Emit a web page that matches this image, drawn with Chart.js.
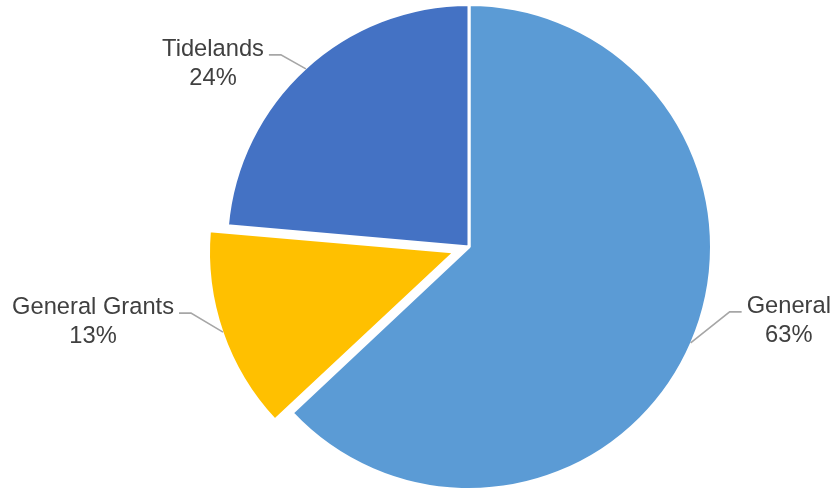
<!DOCTYPE html>
<html><head><meta charset="utf-8">
<script src="https://cdn.jsdelivr.net/npm/chart.js@4.4.1/dist/chart.umd.min.js"></script>
<style>html,body{margin:0;padding:0;background:#fff;}#wrap{width:834px;height:492px;}</style>
</head><body><div id="wrap"><canvas id="c" width="834" height="492"></canvas></div>
<script>
const categories = ['General', 'General Grants', 'Tidelands'];
const values = [63.0, 13.4, 23.6];
const colors = ['#5B9BD5', '#FFC000', '#4472C4'];
const explode = [0, 60, 0];

// label layout (styling only): elbow offset from the slice's edge point, and side
const labelLayout = [
  {dx: 39, dy: -31, side: 1},
  {dx: -32, dy: -19, side: -1},
  {dx: -25, dy: -14, side: -1}
];

const labelPlugin = {
  id: 'pieLabels',
  afterDatasetsDraw(chart) {
    const ctx = chart.ctx;
    const meta = chart.getDatasetMeta(0);
    const data = chart.data.datasets[0].data;
    const total = data.reduce((a, b) => a + b, 0);
    ctx.save();
    ctx.font = '23.7px "Liberation Sans", Arial, sans-serif';
    meta.data.forEach((arc, i) => {
      const p = arc.getProps(['x', 'y', 'startAngle', 'endAngle', 'outerRadius', 'circumference'], true);
      const h = (p.startAngle + p.endAngle) / 2;
      const off = (arc.options.offset || 0) / 4;
      const fix = 1 - Math.sin(Math.min(Math.PI, p.circumference || 0));
      const t = off + off * fix;
      const ax = p.x + Math.cos(h) * (t + p.outerRadius - 1);
      const ay = p.y + Math.sin(h) * (t + p.outerRadius - 1);
      const L = labelLayout[i];
      const ex = ax + L.dx, ey = ay + L.dy;
      const hx = ex + L.side * 12;
      ctx.strokeStyle = '#A6A6A6';
      ctx.lineWidth = 1.6;
      ctx.beginPath();
      ctx.moveTo(ax, ay);
      ctx.lineTo(ex, ey);
      ctx.lineTo(hx, ey);
      ctx.stroke();
      const l1 = chart.data.labels[i];
      const l2 = Math.round(data[i] / total * 100) + '%';
      const w = Math.max(ctx.measureText(l1).width, ctx.measureText(l2).width);
      const cx = L.side < 0 ? hx - 5 - w / 2 : hx + 5 + w / 2;
      ctx.fillStyle = '#404040';
      ctx.textAlign = 'center';
      ctx.textBaseline = 'alphabetic';
      ctx.fillText(l1, cx, ey + 1);
      ctx.fillText(l2, cx, ey + 30);
    });
    ctx.restore();
  }
};

new Chart(document.getElementById('c'), {
  type: 'pie',
  data: {
    labels: categories,
    datasets: [{
      data: values,
      backgroundColor: colors,
      borderColor: '#ffffff',
      borderWidth: 3,
      offset: explode,
      hoverOffset: 0
    }]
  },
  options: {
    responsive: false,
    devicePixelRatio: 1,
    animation: false,
    radius: 242.5,
    layout: {padding: {left: 104, top: 2, right: 0, bottom: 0}},
    plugins: {legend: {display: false}, tooltip: {enabled: false}},
    events: []
  },
  plugins: [labelPlugin]
});
</script>
</body></html>
